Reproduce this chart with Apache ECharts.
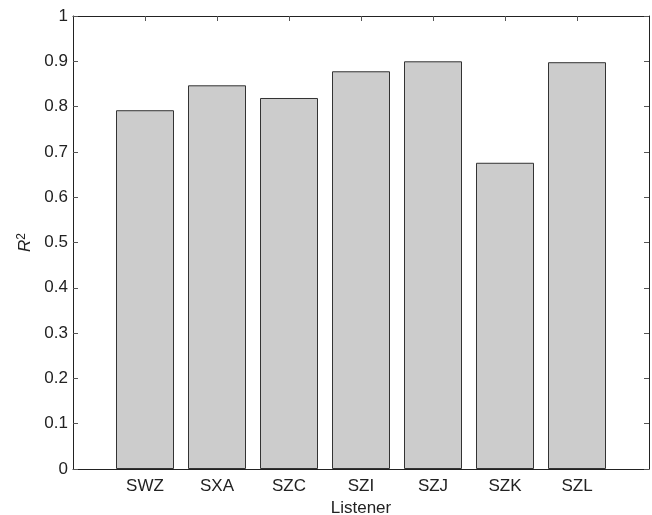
<!DOCTYPE html>
<html>
<head>
<meta charset="utf-8">
<script src="https://cdn.jsdelivr.net/npm/echarts@6/dist/echarts.min.js"></script>
<style>html,body{margin:0;padding:0;background:#fff}#c{width:652px;height:515px}</style>
</head>
<body>
<div id="c"></div>
<script>
const categories = ['SWZ', 'SXA', 'SZC', 'SZI', 'SZJ', 'SZK', 'SZL'];
const r2Values = [0.792, 0.847, 0.819, 0.878, 0.900, 0.676, 0.898];
const yTicks = [0, 0.1, 0.2, 0.3, 0.4, 0.5, 0.6, 0.7, 0.8, 0.9, 1];

const positions = categories.map((c, i) => i + 1);
const font = 'Liberation Sans, Arial, Helvetica, sans-serif';
const axisColor = '#222';
const chart = echarts.init(document.getElementById('c'));
chart.setOption({
  animation: false,
  grid: { left: 73, right: 3, top: 16, bottom: 46, containLabel: false, outerBoundsMode: 'none' },
  xAxis: [{
    type: 'value', min: 0, max: categories.length + 1, interval: 1,
    name: 'Listener', nameLocation: 'middle', nameGap: 29,
    nameTextStyle: { fontFamily: font, fontSize: 17, color: '#222' },
    axisLine: { show: true, onZero: false, lineStyle: { color: axisColor, width: 1 } },
    axisTick: { show: true, inside: true, length: 5, customValues: positions, lineStyle: { color: '#555' } },
    axisLabel: { fontFamily: font, fontSize: 17, color: '#222', margin: 9, customValues: positions,
      formatter: v => categories[Math.round(v) - 1] || '' },
    splitLine: { show: false }
  }, {
    type: 'value', position: 'top', min: 0, max: categories.length + 1, interval: 1,
    axisLine: { show: true, onZero: false, lineStyle: { color: axisColor, width: 1 } },
    axisTick: { show: true, inside: true, length: 5, customValues: positions, lineStyle: { color: '#555' } },
    axisLabel: { show: false }, splitLine: { show: false }
  }],
  yAxis: [{
    type: 'value', min: 0, max: 1, interval: 0.1,
    name: '{i|R}{s|2}', nameLocation: 'middle', nameGap: 36, nameRotate: 90,
    nameTextStyle: { rich: {
      i: { fontFamily: font, fontSize: 17, fontStyle: 'italic', color: '#222' },
      s: { fontFamily: font, fontSize: 12, color: '#222', verticalAlign: 'top', padding: [0, 0, 7, 0] }
    } },
    axisLine: { show: true, onZero: false, lineStyle: { color: axisColor, width: 1 } },
    axisTick: { show: true, inside: true, length: 5, lineStyle: { color: '#555' } },
    axisLabel: { fontFamily: font, fontSize: 17, color: '#222', margin: 5,
      formatter: v => { const t = yTicks.find(x => Math.abs(x - v) < 1e-6); return t === undefined ? '' : String(t); } },
    splitLine: { show: false }
  }, {
    type: 'value', position: 'right', min: 0, max: 1, interval: 0.1,
    axisLine: { show: true, onZero: false, lineStyle: { color: axisColor, width: 1 } },
    axisTick: { show: true, inside: true, length: 5, lineStyle: { color: '#555' } },
    axisLabel: { show: false }, splitLine: { show: false }
  }],
  series: [{
    type: 'bar',
    xAxisIndex: 0, yAxisIndex: 0,
    barWidth: 58,
    data: positions.map((p, i) => [p, r2Values[i]]),
    itemStyle: { color: '#cccccc', borderColor: '#333', borderWidth: 1 }
  }]
});
</script>
</body>
</html>
